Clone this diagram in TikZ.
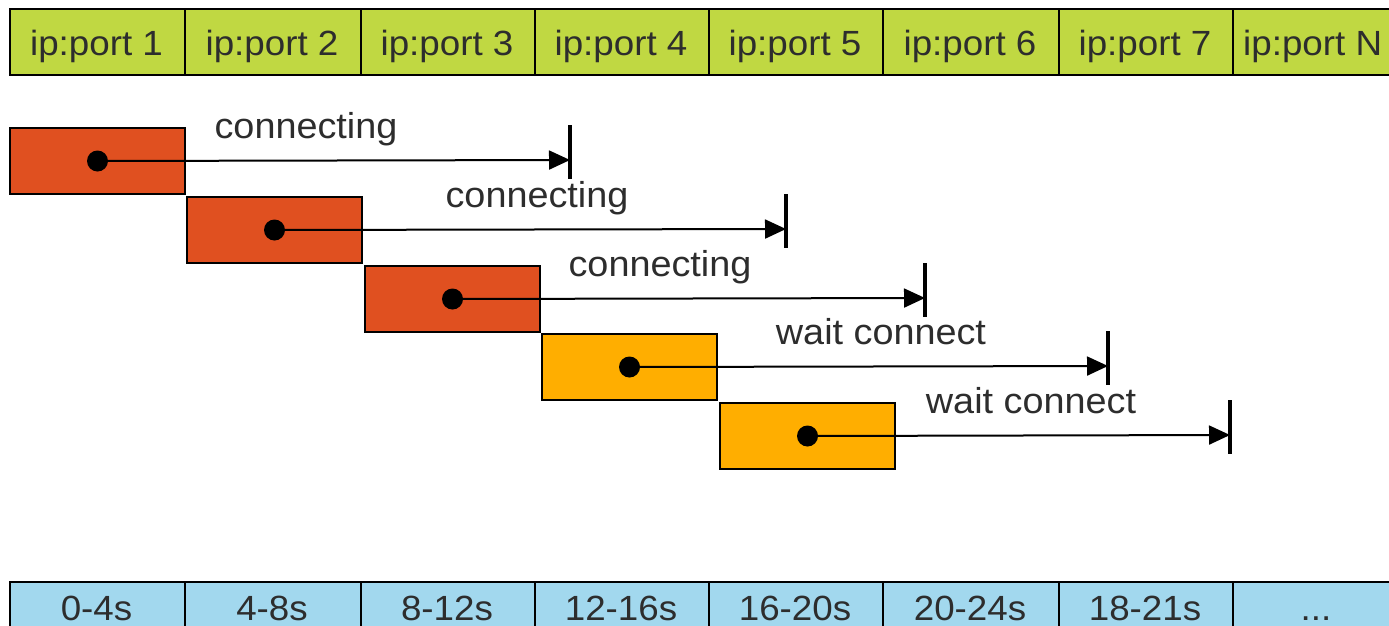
\documentclass[tikz,border=0pt]{standalone}
\usepackage{fontspec}
\setmainfont{Liberation Sans}
\newfontfamily\widesans[FakeStretch=1.05]{Liberation Sans}
\usetikzlibrary{arrows.meta}
\definecolor{portgreen}{RGB}{192,216,66}
\definecolor{timeblue}{RGB}{162,216,238}
\definecolor{redbox}{RGB}{224,80,32}
\definecolor{yellowbox}{RGB}{255,174,0}
\definecolor{txt}{RGB}{45,45,45}
\begin{document}
\begin{tikzpicture}[x=1pt,y=-1pt,
  cellbox/.style={draw=black, line width=2pt, inner sep=0pt, anchor=north west, minimum height=66pt},
  lbl/.style={font=\widesans\fontsize{35}{40}\selectfont, text=txt, inner sep=0pt, anchor=base},
  tasklbl/.style={font=\widesans\fontsize{36}{40}\selectfont, text=txt, inner sep=0pt, anchor=base},
  task/.style={draw=black, line width=2pt, minimum width=175pt, minimum height=66pt, inner sep=0pt, anchor=north west},
  conn/.style={line width=2pt, -{Triangle[length=21pt,width=19pt]}},
  stopbar/.style={line width=3.5pt},
  dotmark/.style={circle, fill=black, minimum size=21pt, inner sep=0pt}]
\clip (0,0) rectangle (1389,625);
\fill[white] (0,0) rectangle (1389,625);
% top bar
\foreach \a/\b/\t [count=\n] in {9/184/ip:port 1, 184/360/ip:port 2, 360/534/ip:port 3, 534/708/ip:port 4, 708/882/ip:port 5, 882/1058/ip:port 6, 1058/1232/ip:port 7}{
  \node[cellbox, fill=portgreen, minimum width={(\b-\a)*1pt}] (pc\n) at (\a,8) {};
  \node[lbl] (pt\n) at ({(\a+\b)/2},55) {\t};
}
\node[cellbox, fill=portgreen, minimum width=180pt] (pc8) at (1232,8) {};
\node[lbl, anchor=base west] (pt8) at (1243,55) {ip:port N};
% bottom bar
\foreach \a/\b/\t [count=\n] in {9/184/0-4s, 184/360/4-8s, 360/534/8-12s, 534/708/12-16s, 708/882/16-20s, 882/1058/20-24s, 1058/1232/18-21s}{
  \node[cellbox, fill=timeblue, minimum width={(\b-\a)*1pt}, minimum height=80pt] (tc\n) at (\a,581) {};
  \node[lbl] (tt\n) at ({(\a+\b)/2},620) {\t};
}
\node[cellbox, fill=timeblue, minimum width=180pt, minimum height=80pt] (tc8) at (1232,581) {};
\node[lbl] (tt8) at (1316,620) {...};
% tasks
\foreach \x/\y/\c/\e/\lx/\t [count=\n] in {9/127/redbox/570/306/connecting, 186/196/redbox/786/537/connecting, 364/265/redbox/925/660/connecting, 541/333/yellowbox/1108/881/wait connect, 719/402/yellowbox/1230/1031/wait connect}{
  \node[task, fill=\c] (k\n) at (\x,\y) {};
  \node[dotmark] (d\n) at (k\n.center) {};
  \coordinate (e\n) at (\e,\y+33);
  \coordinate (bt\n) at (\e,\y-2);
  \coordinate (bb\n) at (\e,\y+52);
  \draw[conn] (d\n.center) -- (e\n);
  \draw[stopbar] (bt\n) -- (bb\n);
  \node[tasklbl] (l\n) at (\lx,\y+11) {\t};
}
\end{tikzpicture}
\end{document}
